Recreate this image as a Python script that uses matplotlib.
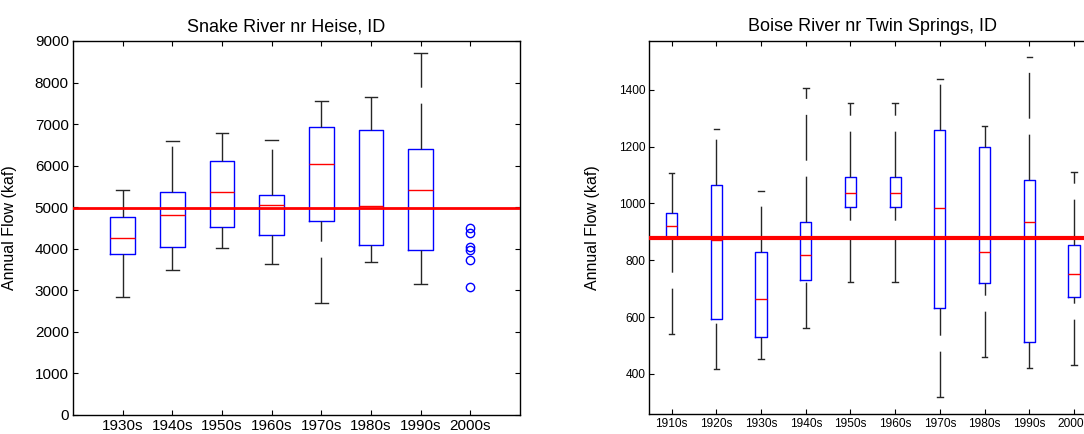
import matplotlib
import matplotlib.pyplot as plt
import numpy as np

matplotlib.use("Agg")

plt.rcParams["font.family"] = ["Liberation Sans", "DejaVu Sans"]

# Snake River nr Heise, ID (annual flow, kaf)
snake_decades = ["1930s", "1940s", "1950s", "1960s", "1970s", "1980s", "1990s", "2000s"]
snake_whislo = [2830, 3490, 4030, 3635, 2690, 3690, 3145]
snake_q1 = [3875, 4050, 4515, 4325, 4660, 4100, 3980]
snake_med = [4265, 4815, 5365, 5060, 6030, 5030, 5415]
snake_q3 = [4755, 5365, 6120, 5295, 6930, 6860, 6395]
snake_whishi = [5415, 6595, 6785, 6615, 7565, 7645, 8720]
snake_2000s_points = [4500, 4390, 4035, 3970, 3740, 3080]
snake_mean = 4975

# Boise River nr Twin Springs, ID (annual flow, kaf)
boise_decades = ["1910s", "1920s", "1930s", "1940s", "1950s", "1960s", "1970s", "1980s", "1990s", "2000s"]
boise_whislo = [541, 416, 452, 563, 724, 724, 320, 459, 422, 432]
boise_q1 = [877, 595, 529, 731, 987, 987, 632, 719, 514, 670]
boise_med = [921, 872, 665, 818, 1038, 1038, 983, 830, 935, 752]
boise_q3 = [968, 1064, 830, 935, 1092, 1092, 1259, 1198, 1081, 854]
boise_whishi = [1109, 1263, 1043, 1408, 1354, 1354, 1438, 1273, 1514, 1111]
boise_mean = 880

DASH = (0, (33, 11.5))


def draw_boxes(ax, lo, q1, med, q3, hi, width, capwidth):
    stats = [
        {"whislo": a, "q1": b, "med": c, "q3": d, "whishi": e, "fliers": []}
        for a, b, c, d, e in zip(lo, q1, med, q3, hi)
    ]
    parts = ax.bxp(
        stats,
        positions=np.arange(1, len(stats) + 1),
        widths=width,
        capwidths=capwidth,
        showfliers=False,
        boxprops=dict(color="blue", linewidth=1.0),
        medianprops=dict(color="red", linewidth=1.0),
        whiskerprops=dict(color="0.15", linewidth=1.0, linestyle=DASH),
        capprops=dict(color="0.15", linewidth=1.0),
        manage_ticks=False,
    )
    # dash pattern starts at the low end of each whisker, as in the original
    for w in parts["whiskers"][0::2]:
        x, y = w.get_data()
        w.set_data(x[::-1], y[::-1])
    return parts


def style_axes(ax, labelsize):
    ax.tick_params(direction="in", length=3.5, width=0.8, top=True, right=True,
                   labelsize=labelsize, pad=3)
    for s in ax.spines.values():
        s.set_linewidth(1.0)


fig = plt.figure(figsize=(10.84, 4.34), dpi=100)

# Left panel
ax1 = fig.add_axes([0.0673, 0.0438, 0.4124, 0.8618])
draw_boxes(ax1, snake_whislo, snake_q1, snake_med, snake_q3, snake_whishi, 0.5, 0.25)
ax1.plot(np.full(len(snake_2000s_points), snake_decades.index("2000s") + 1),
         snake_2000s_points, "o", mfc="none", mec="blue", ms=6, mew=1.0)
ax1.axhline(snake_mean, color="red", linewidth=2.0, zorder=5)
ax1.set_xlim(0, 9)
ax1.set_ylim(0, 9000)
ax1.set_yticks(np.arange(0, 9001, 1000))
ax1.set_xticks(np.arange(1, len(snake_decades) + 1))
ax1.set_xticklabels(snake_decades)
style_axes(ax1, 11)
ax1.set_title("Snake River nr Heise, ID", fontsize=13, pad=7, x=0.477)
ax1.set_ylabel("Annual Flow (kaf)", fontsize=11.5)
ax1.yaxis.set_label_coords(-0.125, 0.5)

# Right panel (extends past the right edge of the figure)
ax2 = fig.add_axes([0.599, 0.0461, 0.4124, 0.8595])
draw_boxes(ax2, boise_whislo, boise_q1, boise_med, boise_q3, boise_whishi, 0.25, 0.125)
ax2.axhline(boise_mean, color="red", linewidth=3.0, zorder=5)
ax2.set_xlim(0.5, 10.5)
ax2.set_ylim(259, 1572)
ax2.set_yticks(np.arange(400, 1401, 200))
ax2.set_xticks(np.arange(1, len(boise_decades) + 1))
ax2.set_xticklabels(boise_decades)
style_axes(ax2, 8.6)
ax2.set_title("Boise River nr Twin Springs, ID", fontsize=13, pad=7)
ax2.set_ylabel("Annual Flow (kaf)", fontsize=11.5)
ax2.yaxis.set_label_coords(-0.11, 0.5)

fig.savefig("out.png", dpi=100)
